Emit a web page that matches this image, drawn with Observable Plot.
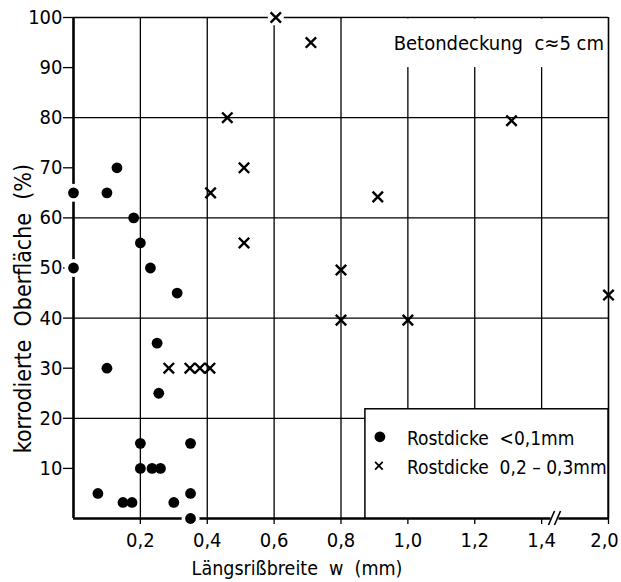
<!DOCTYPE html>
<html>
<head>
<meta charset="utf-8">
<script src="https://cdn.jsdelivr.net/npm/d3@7"></script>
<script src="https://cdn.jsdelivr.net/npm/@observablehq/plot@0.6"></script>
<style>
  html, body { margin: 0; padding: 0; background: white; }
  #chart { position: relative; width: 621px; height: 582px; }
</style>
</head>
<body>
<div id="chart"></div>
<script>
// ---- data ----
// Rostdicke < 0,1 mm (filled dots)
const dotW = [0, 0.10, 0.13, 0.18, 0.20, 0.23, 0, 0.31, 0.25, 0.10, 0.255, 0.20, 0.35, 0.20, 0.235, 0.26, 0.073, 0.148, 0.175, 0.30, 0.35, 0.35];
const dotA = [65, 65, 70, 60, 55, 50, 50, 45, 35, 30, 25, 15, 15, 10, 10, 10, 5, 3.2, 3.2, 3.2, 5, 0];
// Rostdicke 0,2 - 0,3 mm (crosses)
const crossW = [0.605, 0.71, 0.46, 0.51, 0.41, 0.51, 1.31, 0.91, 0.80, 2.0, 0.285, 0.348, 0.378, 0.408, 0.80, 1.0];
const crossA = [100, 95, 80, 70, 65, 55, 79.4, 64.2, 49.6, 44.6, 30, 30, 30, 30, 39.6, 39.6];
// axis ticks and labels
const xTickValues = [0.2, 0.4, 0.6, 0.8, 1.0, 1.2, 1.4, 2.0];
const xTickLabels = ["0,2", "0,4", "0,6", "0,8", "1,0", "1,2", "1,4", "2,0"];
const xGridValues = [0.2, 0.4, 0.6, 0.8, 1.0, 1.2, 1.4];
const yTickValues = [10, 20, 30, 40, 50, 60, 70, 80, 90, 100];
const yGridValues = [20, 40, 60, 80];
const xLabel = "Längsrißbreite  w  (mm)";
const yLabel = "korrodierte  Oberfläche  (%)";
const note = "Betondeckung  c≈5 cm";
const legendLabels = ["Rostdicke  <0,1mm", "Rostdicke  0,2 – 0,3mm"];

// axis break: values beyond 1.4 are compressed so that 2.0 sits one grid step after 1.4
const brk = v => v > 1.4 ? 1.4 + (v - 1.4) * (0.2 / 0.6) : v;

const dots = dotW.map((w, i) => ({w: brk(w), a: dotA[i]}));
const crosses = crossW.map((w, i) => ({w: brk(w), a: crossA[i]}));
const onEdge = d => d.w === 0 || d.w === 1.6 || d.a === 0 || d.a === 100;

const FONT = "'DejaVu Sans Condensed', 'DejaVu Sans', sans-serif";
const tickFmt = new Map(xTickValues.map((v, i) => [brk(v), xTickLabels[i]]));
const keepSpaces = t => t.replace(/ /g, "\u00a0");

const chart = Plot.plot({
  width: 621,
  height: 582,
  marginLeft: 73,
  marginRight: 13,
  marginTop: 17,
  marginBottom: 64,
  style: {fontFamily: FONT, fontSize: "20px", color: "black", background: "white", overflow: "visible"},
  x: {domain: [0, 1.6]},
  y: {domain: [0, 100]},
  marks: [
    Plot.ruleY(yGridValues, {stroke: "black", strokeWidth: 1.3}),
    Plot.ruleY([100], {stroke: "black", strokeWidth: 1.5}),
    Plot.ruleX(xGridValues, {stroke: "black", strokeWidth: 1.3}),
    Plot.ruleX([brk(2.0)], {stroke: "black", strokeWidth: 1.6}),
    Plot.ruleX([0], {stroke: "black", strokeWidth: 2.6}),
    Plot.ruleY([0], {stroke: "black", strokeWidth: 2.4}),
    Plot.axisY({ticks: yTickValues, tickSize: 10, tickPadding: 1, label: null, strokeWidth: 1.3, fontSize: 20}),
    Plot.axisX({ticks: xTickValues.map(brk), tickSize: 6, tickPadding: 8, label: null, strokeWidth: 1.3, fontSize: 20,
      tickFormat: v => tickFmt.get(v)}),
    Plot.dot(dots.filter(onEdge), {x: "w", y: "a", r: 9, fill: "white", stroke: null}),
    Plot.dot(crosses.filter(onEdge), {x: "w", y: "a", r: 8, fill: "white", stroke: null}),
    Plot.dot(dots, {x: "w", y: "a", r: 5.4, fill: "black", stroke: null}),
    Plot.dot(crosses, {x: "w", y: "a", symbol: "times", r: 4.8, stroke: "black", strokeWidth: 2.4})
  ]
});

document.getElementById("chart").appendChild(chart);

// keep the last tick label ("2,0") inside the picture
const xTickTexts = d3.select(chart).selectAll("g[aria-label='x-axis tick label'] text").nodes();
if (xTickTexts.length) d3.select(xTickTexts[xTickTexts.length - 1]).attr("dx", -4);

// ---- annotations placed through the chart's scales ----
const sx = chart.scale("x"), sy = chart.scale("y");
const svg = d3.select(chart);
const X = v => sx.apply(brk(v)), Y = v => sy.apply(v);
const addText = (x, y, t, size, anchor) => svg.append("text")
  .attr("x", x).attr("y", y)
  .attr("text-anchor", anchor)
  .attr("font-family", FONT).attr("font-size", size)
  .attr("fill", "black")
  .text(keepSpaces(t));

// white block under the note (grid lines 1.0–1.4 stop below it)
svg.append("rect")
  .attr("x", X(0.8) + 2).attr("y", Y(100) + 1.5)
  .attr("width", X(2.0) - X(0.8) - 3).attr("height", Y(90) - Y(100) - 1.5)
  .attr("fill", "white");
addText(X(2.0) - 4, Y(95) + 8, note, 20, "end");

// legend box
const lx0 = X(0.873), lx1 = X(2.0), ly0 = Y(21.8), ly1 = Y(0);
svg.append("rect")
  .attr("x", lx0).attr("y", ly0).attr("width", lx1 - lx0).attr("height", ly1 - ly0)
  .attr("fill", "white").attr("stroke", "black").attr("stroke-width", 1.5);
svg.append("circle").attr("cx", lx0 + 15).attr("cy", ly0 + 28).attr("r", 5.4).attr("fill", "black");
const cx = lx0 + 14, cy = ly0 + 57, cr = 3.8;
svg.append("path")
  .attr("d", `M${cx - cr},${cy - cr}L${cx + cr},${cy + cr}M${cx - cr},${cy + cr}L${cx + cr},${cy - cr}`)
  .attr("stroke", "black").attr("stroke-width", 1.8);
legendLabels.forEach((t, i) => addText(lx0 + 42, ly0 + 36 + i * 29, t, 19, "start"));

// axis break marks
const bx = X(1.52), by = Y(0);
svg.append("rect").attr("x", bx - 4).attr("y", by - 3).attr("width", 8).attr("height", 6).attr("fill", "white");
[-3, 3].forEach(dx => {
  svg.append("line")
    .attr("x1", bx + dx - 3).attr("y1", by + 7).attr("x2", bx + dx + 3).attr("y2", by - 7)
    .attr("stroke", "black").attr("stroke-width", 1.6);
});

// axis titles
addText(X(0.67), Y(0) + 57, xLabel, 19.5, "middle");
svg.append("text")
  .attr("transform", `translate(${X(0) - 42},${Y(41.8)}) rotate(-90)`)
  .attr("text-anchor", "middle")
  .attr("font-family", FONT).attr("font-size", 23)
  .attr("fill", "black")
  .text(keepSpaces(yLabel));
</script>
</body>
</html>
